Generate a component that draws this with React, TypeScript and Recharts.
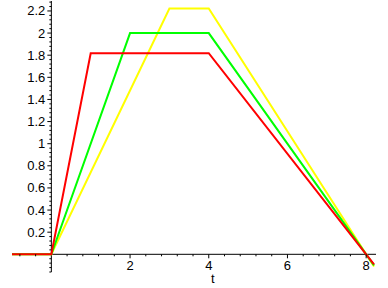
import { LineChart, Line, XAxis, YAxis, ReferenceLine } from 'recharts';

// trapezoid profiles, each with area 10 under the curve
const redT = [-1, 0, 1, 4, 8, 8.2];
const redV = [0, 0, 1.818, 1.818, 0, -0.091];
const greenT = [-1, 0, 2, 4, 8, 8.2];
const greenV = [0, 0, 2, 2, 0, -0.1];
const yellowT = [-1, 0, 3, 4, 8, 8.2];
const yellowV = [0, 0, 2.222, 2.222, 0, -0.111];

const xMajor = [2, 4, 6, 8];
const yMajor = [0.2, 0.4, 0.6, 0.8, 1, 1.2, 1.4, 1.6, 1.8, 2, 2.2];
const xMinor = [-0.8, -0.4, 0.4, 0.8, 1.2, 1.6, 2.4, 2.8, 3.2, 3.6, 4.4, 4.8, 5.2, 5.6, 6.4, 6.8, 7.2, 7.6];
const yMinor = [
  -0.16, -0.12, -0.08, -0.04, 0.04, 0.08, 0.12, 0.16, 0.24, 0.28, 0.32, 0.36, 0.44, 0.48, 0.52, 0.56,
  0.64, 0.68, 0.72, 0.76, 0.84, 0.88, 0.92, 0.96, 1.04, 1.08, 1.12, 1.16, 1.24, 1.28, 1.32, 1.36,
  1.44, 1.48, 1.52, 1.56, 1.64, 1.68, 1.72, 1.76, 1.84, 1.88, 1.92, 1.96, 2.04, 2.08, 2.12, 2.16, 2.24, 2.28,
];

const X_DOMAIN: [number, number] = [-1, 8.25];
const Y_DOMAIN: [number, number] = [-0.16, 2.29];

const W = 388;
const H = 288;
const M = { top: 1, right: 12, bottom: 0, left: 0 };
const X_AXIS_H = 16;
const Y_AXIS_W = 12;
const plotW = W - M.left - M.right - Y_AXIS_W;
const plotH = H - M.top - M.bottom - X_AXIS_H;
// pixel position of the axes crossing (t = 0, y = 0)
const AX_X = M.left + Y_AXIS_W + (plotW * (0 - X_DOMAIN[0])) / (X_DOMAIN[1] - X_DOMAIN[0]);
const AX_Y = M.top + (plotH * (Y_DOMAIN[1] - 0)) / (Y_DOMAIN[1] - Y_DOMAIN[0]);

const font = "'Liberation Sans', Arial, sans-serif";

const toPts = (ts: number[], vs: number[]) => ts.map((t, i) => ({ t, v: vs[i] }));

const XTick = (props: any) => {
  const { x, payload } = props;
  const major = xMajor.includes(payload.value);
  return (
    <g>
      <line x1={x} x2={x} y1={AX_Y} y2={AX_Y + (major ? 4 : 2)} stroke="#000" />
      {major && (
        <text x={x} y={AX_Y + 16} textAnchor="middle" fontSize={13} fontFamily={font} fill="#000">
          {payload.value}
        </text>
      )}
      {payload.value === 4 && (
        <text x={x + 4} y={AX_Y + 29} textAnchor="middle" fontSize={13} fontFamily={font} fill="#000">
          t
        </text>
      )}
    </g>
  );
};

const YTick = (props: any) => {
  const { y, payload } = props;
  const major = yMajor.some((m) => Math.abs(m - payload.value) < 1e-6);
  return (
    <g>
      <line x1={AX_X - (major ? 4 : 2)} x2={AX_X} y1={y} y2={y} stroke="#000" />
      {major && (
        <text x={AX_X - 6} y={y + 4.5} textAnchor="end" fontSize={13} fontFamily={font} fill="#000">
          {payload.value}
        </text>
      )}
    </g>
  );
};

export default function App() {
  return (
    <div style={{ position: 'absolute', left: 0, top: 0, width: W, height: H, background: '#fff' }}>
      <LineChart width={W} height={H} margin={M}>
        <XAxis
          type="number"
          dataKey="t"
          domain={X_DOMAIN}
          ticks={[...xMajor, ...xMinor].sort((a, b) => a - b)}
          interval={0}
          allowDataOverflow
          axisLine={false}
          tickLine={false}
          tick={<XTick />}
          height={X_AXIS_H}
        />
        <YAxis
          type="number"
          domain={Y_DOMAIN}
          ticks={[...yMajor, ...yMinor].sort((a, b) => a - b)}
          interval={0}
          allowDataOverflow
          axisLine={false}
          tickLine={false}
          tick={<YTick />}
          width={Y_AXIS_W}
        />
        <ReferenceLine y={0} stroke="#000" strokeWidth={1} />
        <ReferenceLine x={0} stroke="#000" strokeWidth={1} />
        <Line data={toPts(yellowT, yellowV)} dataKey="v" stroke="#ffff00" strokeWidth={2} dot={false} isAnimationActive={false} />
        <Line data={toPts(greenT, greenV)} dataKey="v" stroke="#00ff00" strokeWidth={2} dot={false} isAnimationActive={false} />
        <Line data={toPts(redT, redV)} dataKey="v" stroke="#ff0000" strokeWidth={2} dot={false} isAnimationActive={false} />
      </LineChart>
    </div>
  );
}
